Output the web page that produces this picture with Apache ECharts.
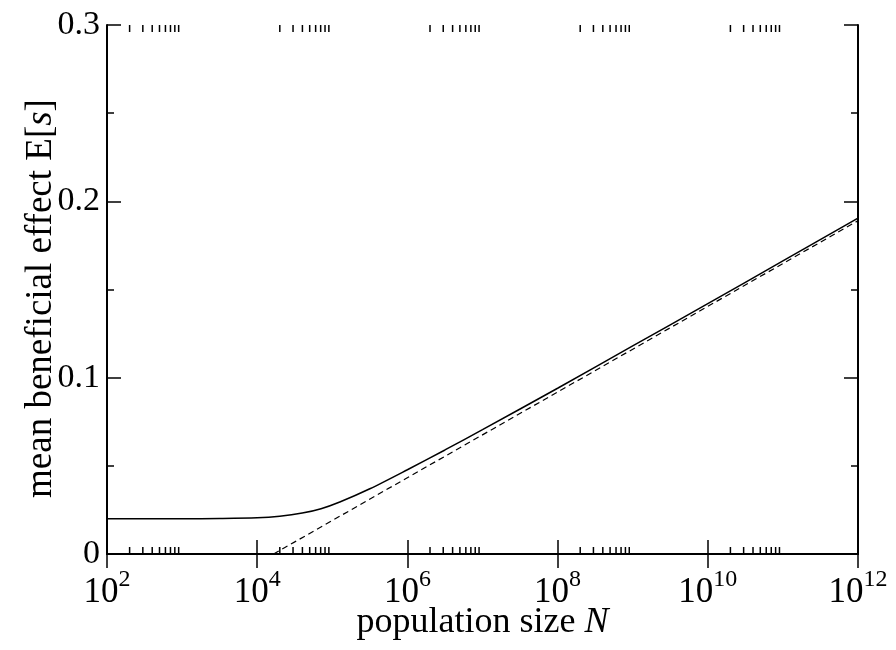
<!DOCTYPE html>
<html><head><meta charset="utf-8">
<script src="https://cdn.jsdelivr.net/npm/echarts@6/dist/echarts.min.js"></script>
<style>html,body{margin:0;padding:0;background:#fff}#c{width:896px;height:650px}</style>
</head><body><div id="c"></div>
<script>
// log10(N) positions and E[s] values
const solidLogN = [2, 3, 3.5, 4, 4.3, 4.6, 4.85, 5.1, 5.5, 6, 6.5, 7, 8, 9, 10, 11, 12];
const solidVals = [0.020, 0.0200, 0.0201, 0.0205, 0.0214, 0.0232, 0.0257, 0.0295, 0.0370, 0.0478, 0.0590, 0.0705, 0.0940, 0.1180, 0.1420, 0.1662, 0.1905];
const dashLogN = [4.218, 12];
const dashVals = [0, 0.189];
const xMajorExp = [2, 4, 6, 8, 10, 12];
const yTicks = [0, 0.1, 0.2, 0.3];
const minorMult = [2, 3, 4, 5, 6, 7, 8, 9];
const minorDecades = [2, 4, 6, 8, 10];

const minorPos = [];
minorDecades.forEach(d => minorMult.forEach(m => minorPos.push([d + Math.log10(m), 0])));

const serif = 'Liberation Serif';
const chart = echarts.init(document.getElementById('c'));
const axisCommon = {
  axisLine: {show: true, lineStyle: {color: '#000', width: 2}},
  splitLine: {show: false}
};
chart.setOption({
  animation: false,
  grid: {left: 107, right: 38, top: 25, bottom: 96, containLabel: false, outerBoundsMode: 'none'},
  xAxis: [
    Object.assign({}, axisCommon, {
      type: 'value', position: 'bottom', min: 2, max: 12, interval: 2,
      axisTick: {show: true, inside: true, length: 14, lineStyle: {color: '#000', width: 1.5}},
      axisLabel: {
        margin: 14,
        formatter: v => '{b|10}{s|' + v + '}',
        rich: {
          b: {fontFamily: serif, fontSize: 35, color: '#000', verticalAlign: 'bottom', lineHeight: 42},
          s: {fontFamily: serif, fontSize: 24, color: '#000', verticalAlign: 'top', lineHeight: 24}
        }
      },
      name: 'population size {i|N}', nameLocation: 'middle', nameGap: 51, nameMoveOverlap: false,
      nameTextStyle: {fontFamily: serif, fontSize: 36, color: '#000',
        rich: {i: {fontFamily: serif, fontSize: 36, fontStyle: 'italic', color: '#000'}}}
    }),
    Object.assign({}, axisCommon, {
      type: 'value', position: 'top', min: 2, max: 12, interval: 2,
      axisTick: {show: true, inside: true, length: 14, lineStyle: {color: '#000', width: 1.5}},
      axisLabel: {show: false}
    })
  ],
  yAxis: [
    Object.assign({}, axisCommon, {
      type: 'value', position: 'left', min: 0, max: 0.3, interval: 0.1,
      axisTick: {show: true, inside: true, length: 14, lineStyle: {color: '#000', width: 1.5}},
      minorTick: {show: true, splitNumber: 2, length: 7, lineStyle: {color: '#000', width: 1.5}},
      axisLabel: {margin: 7, fontFamily: serif, fontSize: 34, color: '#000',
        formatter: v => (v === 0 ? '0' : v.toFixed(1))},
      name: 'mean beneficial effect E[{i|s}]', nameLocation: 'middle', nameGap: 47, nameMoveOverlap: false,
      nameTextStyle: {fontFamily: serif, fontSize: 37, color: '#000', padding: [0, 18, 0, 0],
        rich: {i: {fontFamily: serif, fontSize: 37, fontStyle: 'italic', color: '#000'}}}
    }),
    Object.assign({}, axisCommon, {
      type: 'value', position: 'right', min: 0, max: 0.3, interval: 0.1,
      axisTick: {show: true, inside: true, length: 14, lineStyle: {color: '#000', width: 1.5}},
      minorTick: {show: true, splitNumber: 2, length: 7, lineStyle: {color: '#000', width: 1.5}},
      axisLabel: {show: false}
    })
  ],
  series: [
    {type: 'line', data: solidLogN.map((x, i) => [x, solidVals[i]]), smooth: 0.3, showSymbol: false,
     lineStyle: {color: '#000', width: 1.5}},
    {type: 'line', data: dashLogN.map((x, i) => [x, dashVals[i]]), showSymbol: false,
     lineStyle: {color: '#000', width: 1.2, type: [6, 4]}},
    {type: 'custom', data: minorPos, silent: true, clip: false,
     renderItem: (params, api) => {
       const b = api.coord([api.value(0), 0]);
       const t = api.coord([api.value(0), 0.3]);
       const st = {stroke: '#000', lineWidth: 1.5};
       return {type: 'group', children: [
         {type: 'line', shape: {x1: b[0], y1: b[1], x2: b[0], y2: b[1] - 7}, style: st},
         {type: 'line', shape: {x1: t[0], y1: t[1], x2: t[0], y2: t[1] + 7}, style: st}
       ]};
     }}
  ]
});
</script></body></html>
